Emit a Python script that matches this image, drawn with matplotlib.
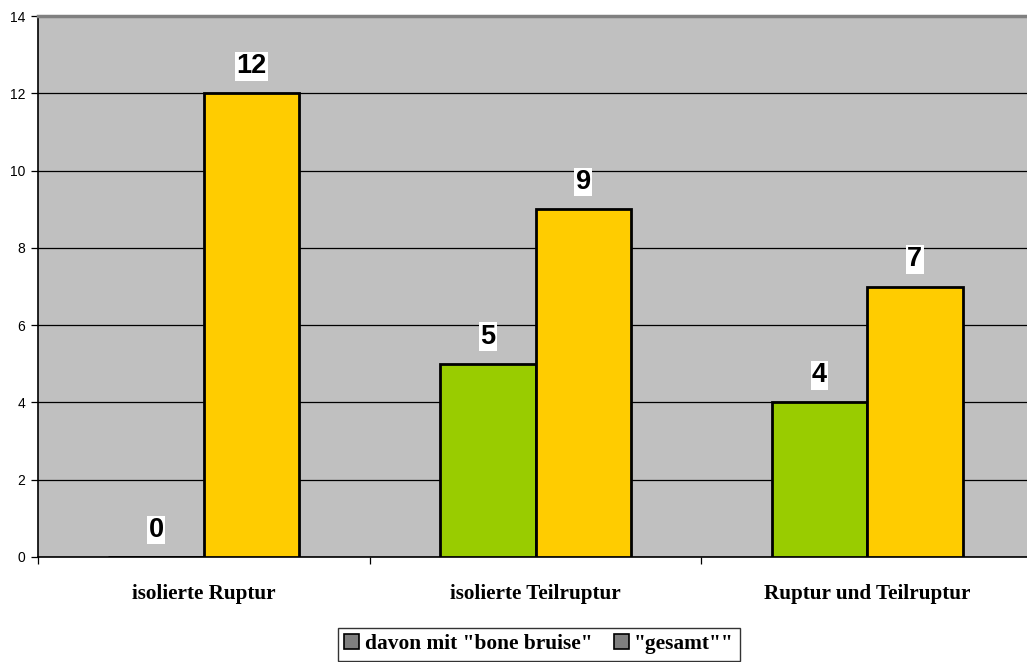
import matplotlib
matplotlib.use("Agg")
import matplotlib.pyplot as plt
import numpy as np
from matplotlib.patches import Patch

categories = ["isolierte Ruptur", "isolierte Teilruptur", "Ruptur und Teilruptur"]
bone_bruise = [0, 5, 4]
gesamt = [12, 9, 7]
series_names = ['davon mit "bone bruise"', '"gesamt""']
y_ticks = [0, 2, 4, 6, 8, 10, 12, 14]

fig = plt.figure(figsize=(10.27, 6.62), dpi=100)
ax = fig.add_axes([38 / 1027, 1 - 557 / 662, (1033 - 38) / 1027, (557 - 16) / 662])
ax.set_facecolor("#c0c0c0")

x = np.arange(len(categories))
w = 0.288
ax.bar(x - w / 2, bone_bruise, w, color="#99cc00", edgecolor="black", linewidth=2, zorder=3)
ax.bar(x + w / 2, gesamt, w, color="#ffcc00", edgecolor="black", linewidth=2, zorder=3)

lab_font = dict(family="Liberation Sans", weight="bold", fontsize=19.5, ha="center", va="baseline",
                zorder=5, textcoords="offset points", xytext=(0, 14.5),
                bbox=dict(facecolor="white", edgecolor="none", pad=1.0))
for xi, v in zip(x, bone_bruise):
    ax.annotate(str(v), (xi - w / 2, v), **lab_font)
for xi, v in zip(x, gesamt):
    ax.annotate(str(v), (xi + w / 2, v), **lab_font)

ax.set_ylim(0, 14)
ax.set_xlim(-0.5, 2.5)
ax.set_yticks(y_ticks)
ax.set_yticklabels([str(t) for t in y_ticks], family="Liberation Sans", fontsize=10)
ax.yaxis.grid(True, color="black", linewidth=0.9, zorder=1)
ax.set_axisbelow(True)

ax.set_xticks([-0.5, 0.5, 1.5, 2.5])
ax.set_xticklabels([])
ax.set_xticks(x, minor=True)
ax.set_xticklabels(categories, minor=True, family="Liberation Serif", weight="bold", fontsize=15.2)
ax.tick_params(axis="x", which="minor", length=0, pad=19.5)
ax.tick_params(axis="x", which="major", length=5, direction="out", width=0.9)
ax.tick_params(axis="y", length=5, width=0.9, pad=4)

for s in ["left", "bottom"]:
    ax.spines[s].set_color("black")
    ax.spines[s].set_linewidth(1.2)
ax.spines["top"].set_color("#808080")
ax.spines["top"].set_linewidth(2.5)
ax.spines["right"].set_visible(False)

handles = [Patch(facecolor="#808080", edgecolor="black", linewidth=1.2) for _ in series_names]
leg = fig.legend(handles, series_names, loc="lower center", bbox_to_anchor=(539 / 1027, -0.014),
                 ncol=2, frameon=True, fancybox=False, handlelength=0.7, handleheight=0.7,
                 handletextpad=0.25, columnspacing=1.0, borderpad=0.3,
                 prop=dict(family="Liberation Serif", weight="bold", size=15.4))
leg.get_frame().set_edgecolor("black")
leg.get_frame().set_linewidth(1.0)

fig.savefig("out.png", dpi=100)
